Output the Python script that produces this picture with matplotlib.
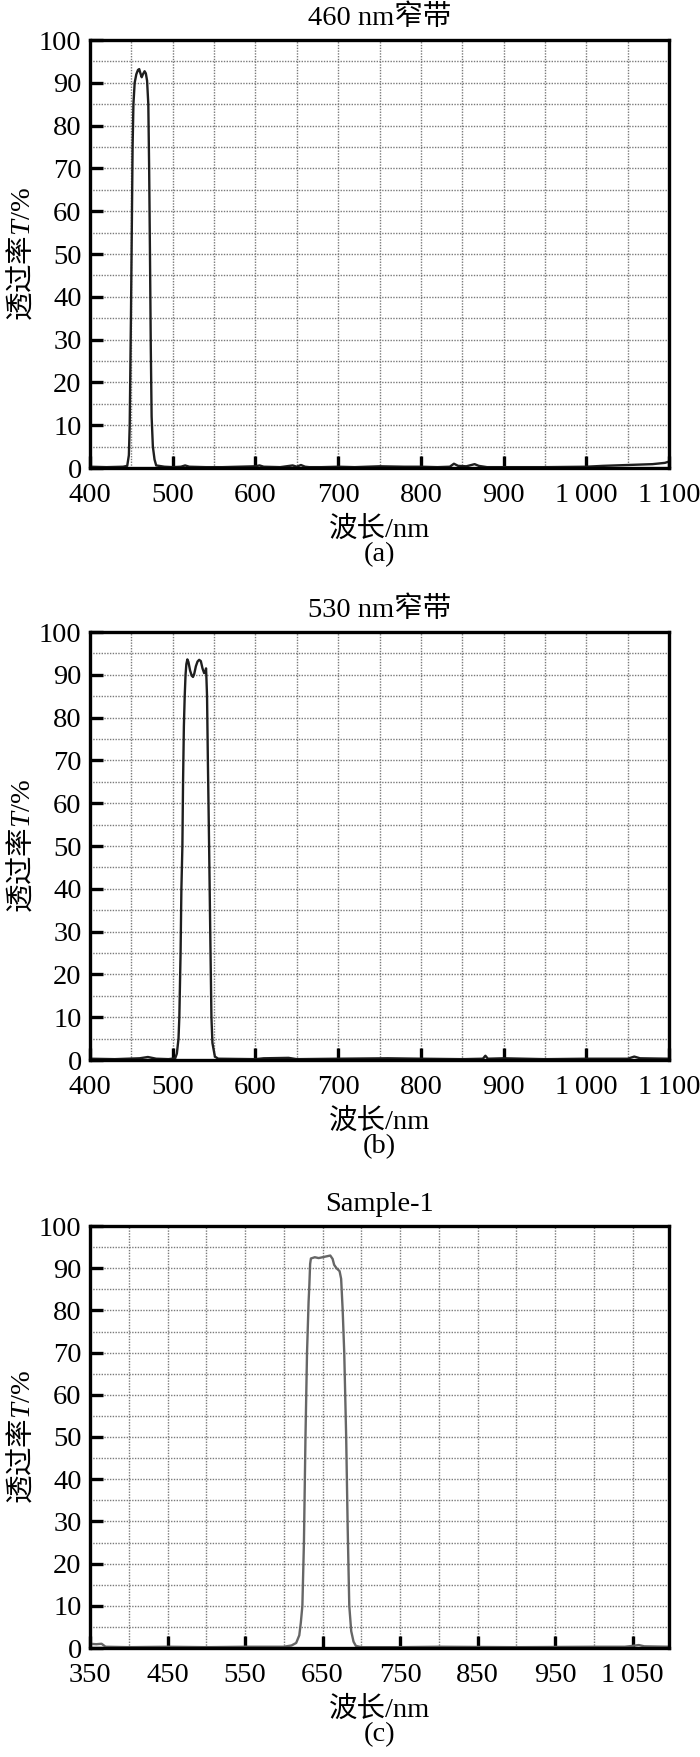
import numpy as np
import matplotlib
matplotlib.use('Agg')
import matplotlib.pyplot as plt
from matplotlib.ticker import FixedLocator, MultipleLocator

plt.rcParams['font.family'] = ['Liberation Serif', 'Noto Sans CJK SC']
plt.rcParams['mathtext.fontset'] = 'custom'
plt.rcParams['mathtext.rm'] = 'Liberation Serif'
plt.rcParams['mathtext.it'] = 'Liberation Serif:italic'

# ---- data ----
titles = ["460 nm窄带", "530 nm窄带", "Sample-1"]
panel_tags = ["(a)", "(b)", "(c)"]

wl_a = [400, 420, 440, 445, 447, 448, 449.5, 450.5, 451.5, 452.5, 454, 456, 458, 459.5,
        461, 462.5, 464, 466, 467.5, 469, 470.5, 471.5, 472.5, 473.5, 474.5, 476, 478,
        480, 490, 500, 510, 515, 520, 540, 560, 580, 600, 605, 610, 630, 645, 650, 655,
        660, 665, 680, 700, 720, 750, 780, 800, 820, 835, 840, 845, 855, 865, 870, 880,
        900, 950, 1000, 1020, 1050, 1080, 1095, 1100]
t_a = [0.3, 0.2, 0.3, 0.5, 3, 10, 35, 55, 75, 85, 90, 92, 93, 93.2,
       92.2, 91.3, 92, 92.7, 92.2, 90.5, 85, 70, 50, 28, 12, 5, 2,
       0.6, 0.3, 0.2, 0.3, 0.6, 0.3, 0.2, 0.2, 0.3, 0.4, 0.6, 0.3, 0.2, 0.6, 0.3, 0.7,
       0.3, 0.2, 0.2, 0.3, 0.2, 0.4, 0.3, 0.3, 0.2, 0.3, 1.0, 0.5, 0.4, 0.9, 0.5, 0.2,
       0.2, 0.2, 0.3, 0.5, 0.7, 0.9, 1.2, 1.5]

wl_b = [400, 430, 460, 470, 480, 495, 503, 505, 507, 508, 509.5, 510.5, 511.7, 512.5,
        513.5, 514.5, 515.5, 516.5, 517.7, 519, 521, 523, 524.5, 526, 528, 530, 532,
        534, 536, 538, 539.5, 540.3, 540.8, 541.5, 542.5, 544, 545.5, 546.8, 548, 551,
        555, 600, 610, 640, 650, 700, 760, 800, 850, 875, 878, 881, 900, 950, 1000,
        1050, 1058, 1065, 1100]
t_b = [0.3, 0.2, 0.4, 0.7, 0.3, 0.2, 0.4, 1.5, 5, 10, 25, 40, 50, 65,
       78, 85, 90, 92.5, 93.6, 93, 91, 89.8, 89.5, 90.2, 92, 93.1, 93.5,
       93.2, 91.5, 90.4, 90.6, 91.5, 89, 85, 70, 50, 28, 10, 4, 0.8,
       0.3, 0.2, 0.4, 0.5, 0.2, 0.3, 0.4, 0.3, 0.2, 0.3, 1.0, 0.3, 0.4, 0.2, 0.3,
       0.3, 0.8, 0.4, 0.3]

wl_c = [350, 358, 365, 370, 400, 450, 500, 550, 600, 610, 616, 620, 622, 624, 626, 628,
        630, 632, 633, 634, 635, 640, 645, 650, 655, 660, 663, 665, 668, 672, 674, 676,
        678, 680.5, 682.5, 684.5, 687, 690, 693, 700, 750, 800, 900, 1000, 1040, 1050,
        1058, 1065, 1097]
t_c = [1.0, 0.9, 1.0, 0.3, 0.2, 0.3, 0.2, 0.3, 0.3, 0.6, 1.2, 3, 6, 10, 25, 50,
       70, 82, 86, 91, 92.3, 92.6, 92.4, 92.6, 92.8, 93.0, 92.2, 90.8, 90, 89.3, 87.5, 80,
       70, 50, 28, 10, 4, 1.5, 0.5, 0.2, 0.2, 0.3, 0.2, 0.3, 0.3, 0.5,
       0.7, 0.4, 0.3]

xticks_ab = [400, 500, 600, 700, 800, 900, 1000, 1100]
xticklabels_ab = ["400", "500", "600", "700", "800", "900", "1\u2009000", "1\u2009100"]
xticks_c = [350, 450, 550, 650, 750, 850, 950, 1050]
xticklabels_c = ["350", "450", "550", "650", "750", "850", "950", "1\u2009050"]
yticks = [0, 10, 20, 30, 40, 50, 60, 70, 80, 90, 100]

panels = [
    (wl_a, t_a, (400, 1100), xticks_ab, xticklabels_ab, '#1e1e1e'),
    (wl_b, t_b, (400, 1100), xticks_ab, xticklabels_ab, '#1e1e1e'),
    (wl_c, t_c, (350, 1097), xticks_c, xticklabels_c, '#666666'),
]

# axes boxes in pixels: (top, bottom)
W, H = 700, 1757
boxes = [(40, 468), (632, 1060), (1226, 1648)]
left_px, right_px = 90, 669

fig = plt.figure(figsize=(W / 100, H / 100), dpi=100)
fs = 20.5

for i, (wl, t, xlim, xt, xtl, col) in enumerate(panels):
    top, bot = boxes[i]
    ax = fig.add_axes([left_px / W, 1 - bot / H, (right_px - left_px) / W, (bot - top) / H])
    ax.plot(wl, t, color=col, linewidth=1.7, zorder=3)
    ax.set_xlim(*xlim)
    ax.set_ylim(0, 100)

    ax.xaxis.set_major_locator(FixedLocator(xt))
    ax.set_xticklabels(xtl)
    ax.xaxis.set_minor_locator(MultipleLocator(50))
    ax.yaxis.set_major_locator(FixedLocator(yticks))
    ax.yaxis.set_minor_locator(MultipleLocator(5))

    ax.grid(True, which='both', color='#7a7a7a', linestyle=(0, (1, 1)), linewidth=1.0, zorder=1)
    ax.tick_params(which='major', direction='in', length=9, width=2.4,
                   labelsize=fs, top=False, right=False)
    ax.tick_params(axis='x', which='major', pad=11)
    ax.tick_params(axis='y', which='major', pad=6)
    ax.tick_params(which='minor', length=0)
    for s in ax.spines.values():
        s.set_linewidth(2.4)
        s.set_zorder(4)

    ax.set_title(titles[i], fontsize=fs, pad=11)

    fig.text(22 / W, 1 - (top + bot) / 2 / H, r'透过率$T\mathrm{/\%}$',
             rotation=90, ha='center', va='center', fontsize=fs,
             family='Noto Sans CJK SC')
    fig.text((left_px + right_px) / 2 / W, 1 - (bot + 62) / H, '波长/nm',
             ha='center', va='center', fontsize=fs)
    fig.text((left_px + right_px) / 2 / W, 1 - (bot + 87) / H, panel_tags[i],
             ha='center', va='center', fontsize=fs)

fig.savefig('out.png', dpi=100)
